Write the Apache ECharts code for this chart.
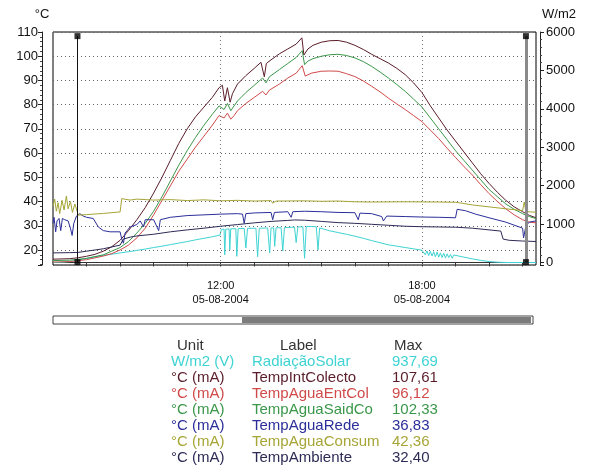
<!DOCTYPE html>
<html>
<head>
<meta charset="utf-8">
<script src="https://cdn.jsdelivr.net/npm/echarts@6/dist/echarts.min.js"></script>
<style>
  html, body { margin: 0; padding: 0; background: #fff; }
  #chart { width: 591px; height: 475px; }
</style>
</head>
<body>
<div id="chart"></div>
<script>
// dados (hora decimal, valor)
var radiacaoSolar = [
  [7.0,0],[7.25,5],[7.5,25],[7.75,60],[8.0,110],[8.25,150],[8.5,185],[8.75,215],[9.0,250],[9.25,280],
  [9.5,315],[9.75,350],[10.0,390],[10.25,425],[10.5,465],[10.75,505],[11.0,545],[11.25,590],[11.5,630],
  [11.75,670],[11.98,715],[12.02,860],[12.1,870],[12.12,200],[12.15,865],[12.25,875],[12.27,330],[12.3,878],
  [12.45,880],[12.48,160],[12.52,882],[12.7,888],[12.75,380],[12.8,890],[13.05,892],[13.1,150],[13.15,893],
  [13.4,898],[13.46,250],[13.5,900],[13.58,900],[13.61,420],[13.65,902],[13.8,905],[13.85,300],[13.9,908],
  [14.1,915],[14.2,920],[14.25,520],[14.3,925],[14.45,930],[14.5,110],[14.55,935],[14.7,937],[14.85,930],
  [14.9,330],[14.95,900],[15.0,870],[15.25,825],[15.5,780],[15.75,735],[16.0,685],[16.25,630],[16.5,570],
  [16.75,515],[17.0,460],[17.25,425],[17.5,390],[17.75,355],[18.0,320],[18.05,310],[18.1,200],[18.15,300],
  [18.2,180],[18.25,290],[18.3,170],[18.35,280],[18.4,150],[18.45,270],[18.5,140],[18.55,250],[18.6,130],
  [18.65,240],[18.7,120],[18.75,225],[18.8,130],[18.85,210],[18.9,110],[18.95,195],[19.0,180],[19.25,140],
  [19.5,95],[19.75,55],[20.0,25],[20.25,8],[20.5,0],[21.4,0]
];
var tempIntColecto = [
  [7.0,16.2],[7.5,16.4],[7.75,16.8],[8.0,17.4],[8.25,18.2],[8.5,19.5],[8.75,21.3],[9.0,24],[9.25,28],
  [9.5,32.5],[9.75,37.5],[10.0,43.5],[10.25,50],[10.5,57],[10.75,64],[11.0,70],[11.25,75],[11.5,79],
  [11.75,83],[11.95,87],[12.05,88],[12.12,81.5],[12.2,87],[12.28,81],[12.35,84.5],[12.5,88.5],[12.75,92],
  [13.0,95],[13.2,97.5],[13.3,91.5],[13.36,97],[13.5,98.5],[13.75,101],[14.0,103],[14.25,105],[14.42,107.6],
  [14.48,100.5],[14.6,103],[14.75,104.5],[15.0,105.8],[15.25,106.4],[15.5,106.5],[15.75,105.8],[16.0,104.5],
  [16.25,102.8],[16.5,100.8],[16.75,99],[17.0,97.2],[17.25,95],[17.5,92.4],[17.75,89],[18.0,85],[18.25,79.5],
  [18.5,74.5],[18.75,69.5],[19.0,65],[19.25,60.5],[19.5,56],[19.75,51.5],[20.0,47.5],[20.25,43.8],
  [20.5,40.5],[20.75,37.8],[21.0,35.8],[21.2,34.3],[21.4,33.3]
];
var tempAguaEntCol = [
  [7.0,15],[7.5,15.2],[8.0,16],[8.5,17.5],[8.75,18.5],[9.0,20],[9.25,22],[9.5,25],[9.75,29],[10.0,34.5],
  [10.25,40.5],[10.5,46.5],[10.75,52.5],[11.0,57.5],[11.25,62.5],[11.5,67],[11.75,71.5],[11.95,75.5],
  [12.1,74.5],[12.2,76.5],[12.3,74],[12.4,75.5],[12.5,77.5],[12.75,80.5],[13.0,83],[13.25,85.5],[13.35,84],
  [13.45,86],[13.75,88.5],[14.0,91],[14.25,93],[14.43,96.1],[14.52,91.8],[14.7,93],[15.0,93.8],[15.25,93.9],
  [15.5,93.8],[15.75,92.8],[16.0,91.6],[16.25,89.8],[16.5,87.6],[16.75,85.3],[17.0,82.7],[17.25,80.3],
  [17.5,78],[17.75,75.5],[18.0,73],[18.25,69.5],[18.5,66],[18.75,62],[19.0,58.2],[19.25,54.5],[19.5,51],
  [19.75,47],[20.0,43.3],[20.25,40],[20.5,37],[20.75,34.5],[21.0,32.5],[21.2,31.5],[21.4,31.2]
];
var tempAguaSaidCo = [
  [7.0,15.6],[7.5,15.8],[8.0,16.5],[8.5,18],[8.75,19.5],[9.0,21],[9.25,23.5],[9.5,27],[9.75,31],[10.0,36],
  [10.25,42],[10.5,48.5],[10.75,55],[11.0,61],[11.25,66.5],[11.5,71.5],[11.75,76],[11.95,79.5],[12.1,78],
  [12.2,80.5],[12.3,77.5],[12.4,79.5],[12.5,81.5],[12.75,85],[13.0,88],[13.25,91],[13.35,89],[13.45,91.5],
  [13.75,94.5],[14.0,97],[14.25,99.5],[14.43,102.3],[14.5,96.5],[14.6,98],[14.75,99],[15.0,100],[15.25,100.6],
  [15.5,100.8],[15.75,100.3],[16.0,99.3],[16.25,97.8],[16.5,95.8],[16.75,93.5],[17.0,91],[17.25,88.3],
  [17.5,85.5],[17.75,82.3],[18.0,79],[18.25,74.5],[18.5,70],[18.75,65.5],[19.0,61],[19.25,57],[19.5,53],
  [19.75,49],[20.0,45],[20.25,42],[20.5,39],[20.75,36.8],[21.0,35],[21.2,33.8],[21.4,33]
];
var tempAguaRede = [
  [7.0,31],[7.03,33.5],[7.08,27.5],[7.12,32],[7.18,33],[7.23,28],[7.28,33],[7.35,32.5],[7.45,32],[7.52,29],
  [7.57,26],[7.62,31],[7.7,34],[7.8,35],[7.9,34],[8.0,33.5],[8.2,33],[8.35,29.5],[8.5,28],[8.7,27.5],
  [9.0,27.5],[9.05,24.5],[9.1,22.8],[9.15,27],[9.3,29.5],[9.5,30.5],[9.6,32],[9.7,29.5],[9.75,32.5],
  [10.0,32.5],[10.15,28],[10.2,32.5],[10.5,33.5],[11.0,34.2],[11.5,34.5],[12.0,34.8],[12.5,35],[12.65,34.8],
  [12.7,31],[12.75,35],[13.0,35.3],[13.5,35.5],[13.55,32.5],[13.6,35.5],[14.0,35.8],[14.1,33.5],[14.15,35.8],
  [14.5,36],[15.0,35.8],[15.5,35.5],[16.0,35.4],[16.1,32.5],[16.15,35.2],[16.5,35],[16.8,33.8],[16.85,32],
  [16.95,34],[17.5,33.8],[18.0,33.6],[18.5,33.5],[19.0,33.3],[19.05,36.8],[19.3,36.2],[19.6,34.8],[20.0,33.3],
  [20.5,31.5],[21.0,29],[21.03,25],[21.1,30],[21.2,31.5],[21.4,32]
];
var tempAguaConsum = [
  [7.0,38],[7.05,41],[7.1,36],[7.15,39.5],[7.2,35],[7.27,40.5],[7.33,36.5],[7.4,42.3],[7.45,37],[7.52,40],
  [7.58,35.5],[7.65,39],[7.72,36],[7.75,34.4],[8.0,34.6],[8.5,35.1],[9.0,35.7],[9.05,41.2],[9.3,40.6],
  [9.5,41],[10.0,40.6],[10.5,40.8],[11.0,40.4],[11.5,40.7],[12.0,40.3],[12.5,40.5],[13.0,40.2],[13.5,40.4],
  [13.55,39.3],[13.65,40.2],[14.5,40.3],[15.0,40.1],[15.5,40.2],[16.0,39.9],[16.5,39.8],[17.5,39.9],
  [18.5,39.8],[19.0,39.7],[19.2,39.3],[19.5,38.6],[20.0,37.8],[20.5,37],[21.0,36.3],[21.05,39.8],[21.1,35.8],
  [21.4,35.6]
];
var tempAmbiente = [
  [7.0,18.8],[7.5,18.9],[7.75,19],[8.0,19.5],[8.5,20.5],[9.0,22],[9.1,24.5],[9.3,25.3],[9.5,25.8],[10.0,26.5],
  [10.5,27.5],[11.0,28.3],[11.5,29],[12.0,29.8],[12.5,30.5],[13.0,31.2],[13.5,31.8],[14.0,32.2],[14.2,32.4],
  [14.5,32.3],[15.0,31.8],[15.5,31.3],[16.0,31],[16.5,30.6],[17.0,30.2],[17.5,29.8],[18.0,29.6],[18.5,29.5],
  [19.0,29.4],[19.5,29],[20.0,28.3],[20.35,27.8],[20.42,24.5],[20.6,24],[21.0,23.7],[21.4,23.5]
];

var seriesNames = ['RadiaçãoSolar', 'TempIntColecto', 'TempAguaEntCol', 'TempAguaSaidCo', 'TempAguaRede', 'TempAguaConsum', 'TempAmbiente'];
var seriesUnits = ['W/m2 (V)', '°C (mA)', '°C (mA)', '°C (mA)', '°C (mA)', '°C (mA)', '°C (mA)'];
var seriesMax = ['937,69', '107,61', '96,12', '102,33', '36,83', '42,36', '32,40'];
var seriesColors = ['#3fd3d3', '#5a1d2a', '#d04a4a', '#3b974a', '#2b2f99', '#a6a536', '#2d2b55'];
var seriesData = [radiacaoSolar, tempIntColecto, tempAguaEntCol, tempAguaSaidCo, tempAguaRede, tempAguaConsum, tempAmbiente];

var dateLabel = '05-08-2004';
var labelHours = [12, 18];
var cursorTimes = [7.73, 21.1];
var cursorRange = [108.3, 15];

var axisFont = '"Liberation Sans Narrow", "Liberation Sans", Arial, sans-serif';

var myChart = echarts.init(document.getElementById('chart'));

var series = seriesData.map(function (d, i) {
  return {
    name: seriesNames[i],
    type: 'line',
    yAxisIndex: i === 0 ? 1 : 0,
    data: d,
    showSymbol: false,
    symbol: 'none',
    silent: true,
    lineStyle: { color: seriesColors[i], width: 1 },
    z: 3
  };
});

// grelha vertical (12:00 e 18:00)
series[6].markLine = {
  silent: true,
  symbol: 'none',
  label: { show: false },
  lineStyle: { color: '#777', type: [1, 3], width: 1 },
  data: labelHours.map(function (h) { return { xAxis: h }; })
};
// cursores
series[5].markLine = {
  silent: true,
  symbol: 'none',
  label: { show: false },
  data: [
    [{ coord: [cursorTimes[0], cursorRange[0]], lineStyle: { color: '#111', width: 1, type: 'solid' } },
     { coord: [cursorTimes[0], cursorRange[1]] }],
    [{ coord: [cursorTimes[1], cursorRange[0]], lineStyle: { color: '#8a8a8a', width: 3, type: 'solid' } },
     { coord: [cursorTimes[1], cursorRange[1]] }]
  ]
};
var cursorEnds = [];
cursorTimes.forEach(function (t) {
  cursorRange.forEach(function (v) { cursorEnds.push([t, v]); });
});
series.push({
  type: 'scatter',
  data: cursorEnds,
  symbol: 'rect',
  symbolSize: 6,
  silent: true,
  itemStyle: { color: '#000' },
  z: 5
});

var option = {
  animation: false,
  backgroundColor: '#fff',
  grid: {
    show: true,
    left: 53,
    top: 32,
    right: 55,
    bottom: 210,
    borderColor: '#000',
    borderWidth: 1,
    backgroundColor: '#fff'
  },
  xAxis: {
    type: 'value',
    min: 7,
    max: 21.4,
    interval: 1,
    offset: 8,
    axisLine: { show: true, lineStyle: { color: '#333', width: 1 } },
    axisTick: { show: true, length: 4, lineStyle: { color: '#333' } },
    splitLine: { show: false },
    axisLabel: {
      color: '#111',
      fontSize: 11,
      fontFamily: axisFont,
      lineHeight: 14,
      margin: 6,
      showMinLabel: false,
      showMaxLabel: false,
      formatter: function (v) {
        var h = Math.round(v);
        if (Math.abs(v - h) < 1e-6 && labelHours.indexOf(h) >= 0) {
          return h + ':00\n' + dateLabel;
        }
        return '';
      }
    }
  },
  yAxis: [
    {
      type: 'value',
      position: 'left',
      min: 13.8,
      max: 110,
      splitNumber: 10,
      offset: 11,
      name: '°C',
      nameLocation: 'end',
      nameGap: 11,
      nameTextStyle: { color: '#111', fontSize: 13, fontFamily: axisFont },
      axisLine: { show: true, lineStyle: { color: '#222' } },
      axisTick: { show: true, length: 4, lineStyle: { color: '#222' } },
      minorTick: { show: true, splitNumber: 5, length: 2, lineStyle: { color: '#444' } },
      splitLine: { show: true, lineStyle: { color: '#666', type: [1, 3], width: 1 } },
      axisLabel: { color: '#111', fontSize: 13, fontFamily: axisFont, margin: 4, showMinLabel: false }
    },
    {
      type: 'value',
      position: 'right',
      min: -65,
      max: 6000,
      splitNumber: 6,
      offset: 4,
      name: 'W/m2',
      nameLocation: 'end',
      nameGap: 11,
      nameTextStyle: { color: '#111', fontSize: 13, fontFamily: axisFont, align: 'left', padding: [0, 0, 0, 2] },
      axisLine: { show: true, lineStyle: { color: '#222' } },
      axisTick: { show: true, length: 4, lineStyle: { color: '#222' } },
      minorTick: { show: true, splitNumber: 5, length: 2, lineStyle: { color: '#444' } },
      splitLine: { show: false },
      axisLabel: {
        color: '#111', fontSize: 13, fontFamily: axisFont, margin: 6, showMinLabel: false,
        formatter: function (v) { return String(Math.round(v)); }
      }
    }
  ],
  series: series,
  graphic: []
};

// barra de deslocamento
option.graphic.push({
  type: 'rect', shape: { x: 53, y: 316, width: 480, height: 8 },
  style: { fill: '#fff', stroke: '#444', lineWidth: 1 }
});
option.graphic.push({
  type: 'rect', shape: { x: 242, y: 317, width: 289, height: 6 },
  style: { fill: '#7c7c7c' }
});

// tabela de legenda
var tableFont = '"Liberation Sans", Arial, sans-serif';
var colX = [171, 252, 392];
var headerY = 346;
var rowH = 16;
[['Unit', 177], ['Label', 280], ['Max', 394]].forEach(function (h) {
  option.graphic.push({
    type: 'text', x: h[1], y: headerY,
    style: { text: h[0], fill: '#333', font: '15px ' + tableFont, textVerticalAlign: 'middle' }
  });
});
seriesNames.forEach(function (n, i) {
  var y = headerY + rowH * (i + 1);
  [seriesUnits[i], n, seriesMax[i]].forEach(function (t, c) {
    option.graphic.push({
      type: 'text', x: colX[c], y: y,
      style: { text: t, fill: seriesColors[i], font: '15px ' + tableFont, textVerticalAlign: 'middle' }
    });
  });
});

myChart.setOption(option);
</script>
</body>
</html>
